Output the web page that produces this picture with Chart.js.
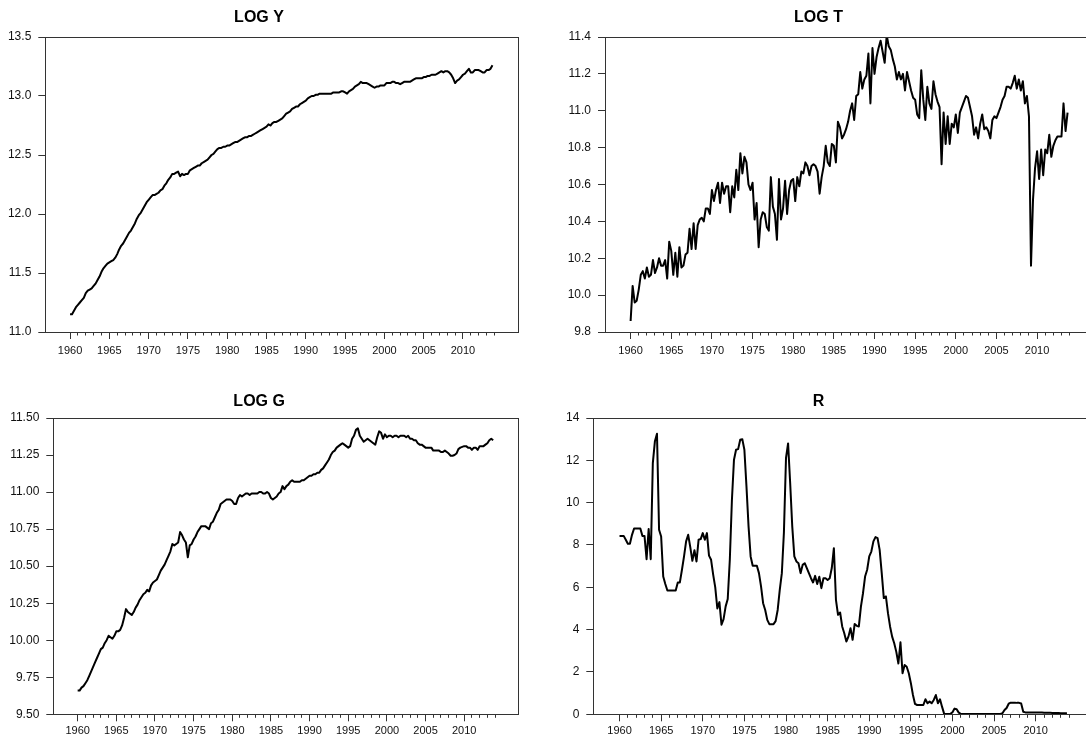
<!DOCTYPE html>
<html>
<head>
<meta charset="utf-8">
<script src="https://cdn.jsdelivr.net/npm/chart.js@4.4.1/dist/chart.umd.min.js"></script>
<style>
  html, body { margin: 0; padding: 0; background: #fff; width: 1086px; height: 740px; overflow: hidden; }
  .panel { position: absolute; }
  .panel canvas { display: block; }
</style>
</head>
<body>
<div class="panel" style="left:0px;top:0px;"><canvas id="cLogY" width="543" height="370"></canvas></div>
<div class="panel" style="left:543px;top:0px;"><canvas id="cLogT" width="556" height="370"></canvas></div>
<div class="panel" style="left:0px;top:381px;"><canvas id="cLogG" width="543" height="359"></canvas></div>
<div class="panel" style="left:543px;top:381px;"><canvas id="cR" width="556" height="359"></canvas></div>
<script>
// Quarterly observations, 1960Q1 - 2013Q4
const quarters = Array.from({ length: 216 }, (_, i) => 1960 + i / 4);

const logY = [
  11.15, 11.15, 11.18, 11.21,  11.23, 11.25, 11.27, 11.29,  11.33, 11.35, 11.36, 11.37,
  11.39, 11.41, 11.44, 11.47,  11.51, 11.54, 11.56, 11.58,  11.59, 11.60, 11.61, 11.63,
  11.66, 11.70, 11.73, 11.75,  11.78, 11.81, 11.84, 11.86,  11.89, 11.92, 11.96, 11.99,
  12.01, 12.04, 12.07, 12.10,  12.12, 12.14, 12.16, 12.16,  12.17, 12.18, 12.20, 12.21,
  12.24, 12.26, 12.29, 12.31,  12.34, 12.34, 12.35, 12.36,  12.32, 12.34, 12.33, 12.34,
  12.34, 12.37, 12.38, 12.39,  12.40, 12.41, 12.41, 12.43,  12.44, 12.45, 12.46, 12.48,
  12.50, 12.51, 12.53, 12.55,  12.56, 12.56, 12.57, 12.57,  12.58, 12.58, 12.59, 12.60,
  12.61, 12.61, 12.62, 12.63,  12.64, 12.65, 12.65, 12.66,  12.66, 12.67, 12.68, 12.69,
  12.70, 12.71, 12.72, 12.73,  12.74, 12.76, 12.75, 12.77,  12.78, 12.78, 12.79, 12.80,
  12.81, 12.83, 12.85, 12.86,  12.87, 12.89, 12.90, 12.91,  12.91, 12.93, 12.94, 12.95,
  12.96, 12.98, 12.99, 13.00,  13.00, 13.01, 13.01, 13.02,  13.02, 13.02, 13.02, 13.02,
  13.02, 13.02, 13.03, 13.03,  13.03, 13.03, 13.04, 13.04,  13.03, 13.02, 13.04, 13.05,
  13.06, 13.08, 13.09, 13.10,  13.12, 13.11, 13.11, 13.11,  13.10, 13.09, 13.08, 13.07,
  13.08, 13.08, 13.09, 13.09,  13.09, 13.11, 13.11, 13.11,  13.12, 13.12, 13.11, 13.11,
  13.10, 13.11, 13.12, 13.12,  13.12, 13.12, 13.13, 13.14,  13.15, 13.15, 13.15, 13.15,
  13.16, 13.16, 13.17, 13.17,  13.18, 13.18, 13.18, 13.19,  13.20, 13.21, 13.20, 13.21,
  13.21, 13.20, 13.18, 13.15,  13.11, 13.13, 13.14, 13.16,  13.18, 13.19, 13.21, 13.23,
  13.20, 13.20, 13.22, 13.22,  13.22, 13.21, 13.20, 13.20,  13.22, 13.22, 13.23, 13.26
];

const logT = [
   9.86, 10.05,  9.96,  9.97,  10.03, 10.11, 10.13, 10.09,  10.15, 10.10, 10.11, 10.19,
  10.12, 10.15, 10.20, 10.16,  10.16, 10.19, 10.09, 10.29,  10.24, 10.11, 10.23, 10.10,
  10.26, 10.15, 10.16, 10.22,  10.23, 10.36, 10.25, 10.39,  10.25, 10.38, 10.41, 10.42,
  10.40, 10.47, 10.47, 10.44,  10.57, 10.51, 10.57, 10.61,  10.50, 10.61, 10.55, 10.59,
  10.59, 10.45, 10.59, 10.53,  10.68, 10.57, 10.77, 10.66,  10.75, 10.72, 10.60, 10.57,
  10.61, 10.41, 10.50, 10.26,  10.41, 10.45, 10.44, 10.37,  10.35, 10.64, 10.48, 10.44,
  10.30, 10.63, 10.41, 10.47,  10.62, 10.44, 10.57, 10.62,  10.63, 10.51, 10.64, 10.59,
  10.67, 10.66, 10.72, 10.70,  10.65, 10.70, 10.71, 10.70,  10.67, 10.55, 10.64, 10.70,
  10.81, 10.72, 10.70, 10.82,  10.81, 10.72, 10.94, 10.91,  10.85, 10.87, 10.90, 10.94,
  11.00, 11.04, 10.95, 11.08,  11.09, 11.21, 11.12, 11.17,  11.19, 11.31, 11.04, 11.34,
  11.20, 11.29, 11.34, 11.38,  11.32, 11.26, 11.41, 11.35,  11.33, 11.28, 11.24, 11.17,
  11.21, 11.17, 11.20, 11.11,  11.21, 11.16, 11.11, 11.07,  11.06, 10.98, 10.96, 11.22,
  11.06, 10.95, 11.13, 11.04,  11.01, 11.16, 11.09, 11.05,  11.02, 10.71, 10.99, 10.82,
  10.97, 10.82, 10.93, 10.91,  10.98, 10.88, 10.99, 11.02,  11.05, 11.08, 11.07, 11.02,
  10.97, 10.87, 10.91, 10.85,  10.93, 10.98, 10.90, 10.91,  10.89, 10.85, 10.95, 10.97,
  10.96, 10.99, 11.02, 11.06,  11.08, 11.13, 11.13, 11.12,  11.15, 11.19, 11.12, 11.17,
  11.11, 11.16, 11.04, 11.08,  10.97, 10.16, 10.52, 10.69,  10.78, 10.63, 10.79, 10.65,
  10.79, 10.77, 10.87, 10.75,  10.81, 10.84, 10.86, 10.86,  10.86, 11.04, 10.89, 10.99
];

const logG = [
   9.66,  9.66,  9.68,  9.69,   9.71,  9.73,  9.76,  9.79,   9.82,  9.85,  9.88,  9.91,
   9.94,  9.95,  9.98, 10.00,  10.03, 10.02, 10.01, 10.03,  10.06, 10.06, 10.07, 10.10,
  10.15, 10.21, 10.19, 10.18,  10.17, 10.19, 10.22, 10.24,  10.27, 10.29, 10.31, 10.32,
  10.34, 10.33, 10.37, 10.39,  10.40, 10.41, 10.44, 10.47,  10.49, 10.51, 10.54, 10.57,
  10.60, 10.65, 10.64, 10.65,  10.66, 10.73, 10.71, 10.68,  10.66, 10.56, 10.64, 10.65,
  10.68, 10.70, 10.73, 10.75,  10.77, 10.77, 10.77, 10.76,  10.75, 10.79, 10.80, 10.83,
  10.86, 10.88, 10.92, 10.93,  10.94, 10.95, 10.95, 10.95,  10.94, 10.92, 10.92, 10.96,
  10.98, 10.97, 10.98, 10.99,  10.99, 10.98, 10.99, 10.99,  10.99, 10.99, 11.00, 11.00,
  10.99, 10.99, 11.00, 10.99,  10.96, 10.95, 10.96, 10.97,  10.99, 11.00, 11.04, 11.02,
  11.04, 11.05, 11.07, 11.08,  11.07, 11.07, 11.07, 11.07,  11.08, 11.08, 11.09, 11.10,
  11.11, 11.11, 11.12, 11.12,  11.13, 11.13, 11.15, 11.16,  11.18, 11.20, 11.22, 11.25,
  11.27, 11.28, 11.30, 11.31,  11.32, 11.33, 11.32, 11.31,  11.30, 11.31, 11.36, 11.38,
  11.42, 11.43, 11.38, 11.36,  11.34, 11.35, 11.36, 11.35,  11.34, 11.33, 11.32, 11.37,
  11.41, 11.40, 11.36, 11.39,  11.37, 11.38, 11.38, 11.37,  11.38, 11.38, 11.37, 11.38,
  11.38, 11.38, 11.37, 11.38,  11.36, 11.36, 11.35, 11.35,  11.33, 11.32, 11.32, 11.31,
  11.30, 11.30, 11.30, 11.30,  11.28, 11.28, 11.28, 11.28,  11.27, 11.27, 11.28, 11.27,
  11.26, 11.245, 11.245, 11.25, 11.26, 11.29, 11.30, 11.305, 11.31, 11.31, 11.30, 11.30,
  11.285, 11.30, 11.30, 11.285, 11.31, 11.31, 11.31, 11.32,  11.33, 11.35, 11.36, 11.35
];

const rate = [
   8.43,  8.43,  8.43,  8.25,   8.06,  8.06,  8.48,  8.78,   8.78,  8.78,  8.78,  8.43,
   8.43,  7.33,  8.75,  7.33,  11.87, 12.90, 13.26,  8.72,   8.40,  6.51,  6.16,  5.85,
   5.85,  5.85,  5.85,  5.85,   6.23,  6.23,  6.83,  7.46,   8.17,  8.48,  7.90,  7.25,
   7.75,  7.22,  8.25,  8.28,   8.56,  8.25,  8.56,  7.50,   7.30,  6.60,  6.00,  5.00,
   5.30,  4.23,  4.50,  5.10,   5.45,  7.30, 10.10, 12.03,  12.50, 12.53, 12.97, 13.00,
  12.50, 10.77,  8.88,  7.46,   7.02,  7.02,  7.02,  6.67,   6.04,  5.25,  4.93,  4.46,
   4.26,  4.26,  4.26,  4.40,   4.93,  5.88,  6.67,  8.60,  12.11, 12.80, 10.93,  8.88,
   7.46,  7.22,  7.14,  6.67,   7.06,  7.14,  6.91,  6.67,   6.43,  6.23,  6.54,  6.16,
   6.50,  5.96,  6.43,  6.43,   6.35,  6.43,  6.91,  7.85,   5.41,  4.70,  4.81,  4.15,
   3.83,  3.44,  3.67,  4.07,   3.52,  4.27,  4.18,  4.15,   5.09,  5.72,  6.51,  6.83,
   7.46,  7.69,  8.17,  8.37,   8.32,  7.77,  6.67,  5.49,   5.57,  4.78,  4.15,  3.67,
   3.36,  2.95,  2.40,  3.40,   1.94,  2.33,  2.25,  1.94,   1.47,  0.91,  0.49,  0.44,
   0.44,  0.44,  0.44,  0.71,   0.52,  0.60,  0.52,  0.68,   0.91,  0.52,  0.71,  0.35,
   0.02,  0.02,  0.02,  0.02,   0.10,  0.27,  0.24,  0.08,   0.02,  0.02,  0.02,  0.02,
   0.02,  0.02,  0.02,  0.02,   0.02,  0.02,  0.02,  0.02,   0.02,  0.02,  0.02,  0.02,
   0.02,  0.02,  0.02,  0.02,   0.05,  0.20,  0.30,  0.50,   0.55,  0.55,  0.55,  0.54,
   0.54,  0.51,  0.12,  0.09,   0.09,  0.09,  0.09,  0.09,   0.08,  0.08,  0.08,  0.08,
   0.07,  0.07,  0.07,  0.07,   0.06,  0.06,  0.06,  0.06,   0.05,  0.05,  0.05,  0.05
];

// Axis ticks
const majorYears = [1960, 1965, 1970, 1975, 1980, 1985, 1990, 1995, 2000, 2005, 2010];
const minorYears = Array.from({ length: 54 }, (_, i) => 1961 + i).filter(y => y % 5 !== 0);
const yTicksLogY = [11.0, 11.5, 12.0, 12.5, 13.0, 13.5];
const yTicksLogT = [9.8, 10.0, 10.2, 10.4, 10.6, 10.8, 11.0, 11.2, 11.4];
const yTicksLogG = [9.50, 9.75, 10.00, 10.25, 10.50, 10.75, 11.00, 11.25, 11.50];
const yTicksR = [0, 2, 4, 6, 8, 10, 12, 14];

const X_MIN = 1956.85, X_MAX = 2017.0;
const FONT = "'Liberation Sans', Arial, Helvetica, sans-serif";
const AXIS_COLOR = '#333';
const TITLE_SIZE = 16;
const TITLE_BOX = 37;

// Closed frame around the plotting area
const frame = {
  id: 'frame',
  afterDraw(chart) {
    const { ctx, chartArea: a } = chart;
    ctx.save();
    ctx.strokeStyle = AXIS_COLOR;
    ctx.lineWidth = 1;
    const l = Math.round(a.left) + 0.5, t = Math.round(a.top) + 0.5;
    const r = Math.round(a.right) + 0.5, b = Math.round(a.bottom) + 0.5;
    ctx.strokeRect(l, t, r - l, b - t);
    ctx.restore();
  }
};

function panel(id, p) {
  new Chart(document.getElementById(id), {
    type: 'line',
    data: {
      datasets: [{
        data: p.values.map((v, i) => ({ x: quarters[i], y: v })),
        borderColor: '#000',
        borderWidth: 2,
        borderJoinStyle: 'round',
        pointRadius: 0,
        tension: 0,
        fill: false
      }]
    },
    options: {
      responsive: false,
      animation: false,
      events: [],
      layout: { padding: { left: 0, right: p.padRight, top: 0, bottom: 0 } },
      plugins: {
        legend: { display: false },
        tooltip: { enabled: false },
        title: {
          display: true,
          text: p.title,
          color: '#000',
          font: { family: FONT, size: TITLE_SIZE, weight: 'bold', lineHeight: 1.2 },
          padding: { top: p.titleTop, bottom: TITLE_BOX - TITLE_SIZE * 1.2 - p.titleTop }
        }
      },
      scales: {
        xMinor: {
          type: 'linear', position: 'bottom', weight: 0,
          min: X_MIN, max: X_MAX,
          afterBuildTicks: s => { s.ticks = minorYears.map(v => ({ value: v })); },
          afterFit: s => { s.height = 0; },
          ticks: { display: false },
          grid: { drawOnChartArea: false, drawTicks: true, tickLength: 3.5, color: AXIS_COLOR },
          border: { display: false }
        },
        x: {
          type: 'linear', position: 'bottom', weight: 1,
          min: X_MIN, max: X_MAX,
          afterBuildTicks: s => { s.ticks = majorYears.map(v => ({ value: v })); },
          afterFit: s => { s.height = p.xHeight; },
          ticks: {
            autoSkip: false, maxRotation: 0, padding: p.xPad,
            color: '#111', font: { family: FONT, size: 11 },
            callback: v => String(v)
          },
          grid: { drawOnChartArea: false, drawTicks: true, tickLength: 7, color: AXIS_COLOR },
          border: { display: true, color: AXIS_COLOR, width: 1 }
        },
        y: {
          type: 'linear', position: 'left',
          min: p.yTicks[0], max: p.yTicks[p.yTicks.length - 1],
          afterBuildTicks: s => { s.ticks = p.yTicks.map(v => ({ value: v })); },
          afterFit: s => { s.width = p.yWidth; },
          ticks: {
            padding: 7, color: '#111', font: { family: FONT, size: 12 },
            callback: v => Number(v).toFixed(p.decimals)
          },
          grid: { drawOnChartArea: false, drawTicks: true, tickLength: 7, color: AXIS_COLOR },
          border: { display: true, color: AXIS_COLOR, width: 1 }
        }
      }
    },
    plugins: [frame]
  });
}

panel('cLogY', { title: 'LOG Y', values: logY, yTicks: yTicksLogY, decimals: 1,
  yWidth: 45.3, padRight: 25, titleTop: 8.2, xHeight: 38, xPad: 5.4 });
panel('cLogT', { title: 'LOG T', values: logT, yTicks: yTicksLogT, decimals: 1,
  yWidth: 62, padRight: 5, titleTop: 8.2, xHeight: 38, xPad: 5.4 });
panel('cLogG', { title: 'LOG G', values: logG, yTicks: yTicksLogG, decimals: 2,
  yWidth: 53.3, padRight: 24.7, titleTop: 11.1, xHeight: 25.7, xPad: 2.6 });
panel('cR', { title: 'R', values: rate, yTicks: yTicksR, decimals: 0,
  yWidth: 50.3, padRight: 5, titleTop: 11.1, xHeight: 25.7, xPad: 2.6 });
</script>
</body>
</html>
